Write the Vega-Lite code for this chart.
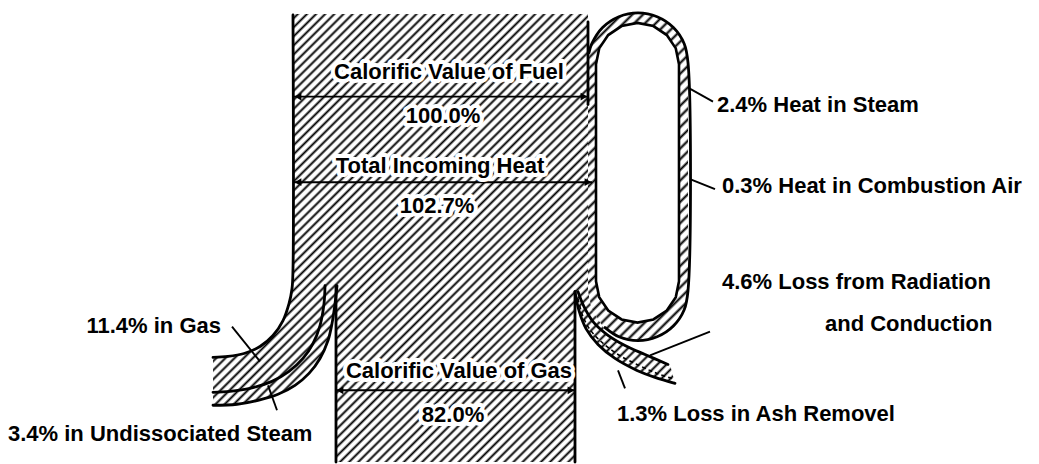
{
"$schema": "https://vega.github.io/schema/vega-lite/v6.json",
"width": 1039, "height": 464,
"autosize": {"type": "fit", "contains": "padding"},
"padding": 0,
"background": "white",
"config": {"view": {"stroke": null}},
"datasets": {
"shapes": [
{"s":"body","i":1,"x":293,"y":14},{"s":"body","i":2,"x":588,"y":14},{"s":"body","i":3,"x":588,"y":292},{"s":"body","i":4,"x":591.8,"y":311.1},{"s":"body","i":5,"x":602.6,"y":327.4},{"s":"body","i":6,"x":607,"y":336},{"s":"body","i":7,"x":625,"y":347},{"s":"body","i":8,"x":645,"y":356},{"s":"body","i":9,"x":670,"y":366},{"s":"body","i":10,"x":675,"y":385},{"s":"body","i":11,"x":655,"y":379},{"s":"body","i":12,"x":637,"y":372},{"s":"body","i":13,"x":615,"y":360},{"s":"body","i":14,"x":598,"y":346},{"s":"body","i":15,"x":586,"y":330},{"s":"body","i":16,"x":579,"y":312},{"s":"body","i":17,"x":575,"y":293},{"s":"body","i":18,"x":575,"y":464},{"s":"body","i":19,"x":336,"y":464},{"s":"body","i":20,"x":336,"y":287},{"s":"body","i":21,"x":335,"y":305},{"s":"body","i":22,"x":332,"y":325},{"s":"body","i":23,"x":328,"y":342},{"s":"body","i":24,"x":320,"y":360},{"s":"body","i":25,"x":309,"y":375},{"s":"body","i":26,"x":295,"y":387},{"s":"body","i":27,"x":278,"y":396},{"s":"body","i":28,"x":258,"y":402},{"s":"body","i":29,"x":237,"y":406},{"s":"body","i":30,"x":213,"y":407},{"s":"body","i":31,"x":213,"y":359},{"s":"body","i":32,"x":228,"y":358},{"s":"body","i":33,"x":244,"y":355},{"s":"body","i":34,"x":260,"y":348},{"s":"body","i":35,"x":273,"y":337},{"s":"body","i":36,"x":283,"y":322},{"s":"body","i":37,"x":289,"y":305},{"s":"body","i":38,"x":292,"y":290},{"s":"body","i":39,"x":293,"y":270},
{"s":"ring","i":1,"x":588,"y":63},{"s":"ring","i":2,"x":591.8,"y":43.9},{"s":"ring","i":3,"x":602.6,"y":27.6},{"s":"ring","i":4,"x":618.9,"y":16.8},{"s":"ring","i":5,"x":638,"y":13},{"s":"ring","i":6,"x":657.1,"y":16.8},{"s":"ring","i":7,"x":673.4,"y":27.6},{"s":"ring","i":8,"x":684.2,"y":43.9},{"s":"ring","i":9,"x":688,"y":63},{"s":"ring","i":10,"x":688,"y":292},{"s":"ring","i":11,"x":684.2,"y":311.1},{"s":"ring","i":12,"x":673.4,"y":327.4},{"s":"ring","i":13,"x":657.1,"y":338.2},{"s":"ring","i":14,"x":638,"y":342},{"s":"ring","i":15,"x":618.9,"y":338.2},{"s":"ring","i":16,"x":602.6,"y":327.4},{"s":"ring","i":17,"x":591.8,"y":311.1},{"s":"ring","i":18,"x":588,"y":292},
{"s":"inner","i":1,"x":596,"y":64.5},{"s":"inner","i":2,"x":599.2,"y":48.6},{"s":"inner","i":3,"x":608.2,"y":35.2},{"s":"inner","i":4,"x":621.6,"y":26.2},{"s":"inner","i":5,"x":637.5,"y":23},{"s":"inner","i":6,"x":653.4,"y":26.2},{"s":"inner","i":7,"x":666.8,"y":35.2},{"s":"inner","i":8,"x":675.8,"y":48.6},{"s":"inner","i":9,"x":679,"y":64.5},{"s":"inner","i":10,"x":679,"y":282.5},{"s":"inner","i":11,"x":675.8,"y":298.4},{"s":"inner","i":12,"x":666.8,"y":311.8},{"s":"inner","i":13,"x":653.4,"y":320.8},{"s":"inner","i":14,"x":637.5,"y":324},{"s":"inner","i":15,"x":621.6,"y":320.8},{"s":"inner","i":16,"x":608.2,"y":311.8},{"s":"inner","i":17,"x":599.2,"y":298.4},{"s":"inner","i":18,"x":596,"y":282.5}
],
"strokes": [
{"s":"L","i":1,"x":293,"y":15},{"s":"L","i":2,"x":293,"y":270},{"s":"L","i":3,"x":292,"y":290},{"s":"L","i":4,"x":289,"y":305},{"s":"L","i":5,"x":283,"y":322},{"s":"L","i":6,"x":273,"y":337},{"s":"L","i":7,"x":260,"y":348},{"s":"L","i":8,"x":244,"y":355},{"s":"L","i":9,"x":228,"y":358},{"s":"L","i":10,"x":213,"y":359},
{"s":"D","i":1,"x":325,"y":287},{"s":"D","i":2,"x":324,"y":305},{"s":"D","i":3,"x":320,"y":327},{"s":"D","i":4,"x":313,"y":345},{"s":"D","i":5,"x":303,"y":360},{"s":"D","i":6,"x":289,"y":373},{"s":"D","i":7,"x":272,"y":383},{"s":"D","i":8,"x":250,"y":390},{"s":"D","i":9,"x":230,"y":393},{"s":"D","i":10,"x":213,"y":394},
{"s":"LC","i":1,"x":337,"y":287},{"s":"LC","i":2,"x":335,"y":305},{"s":"LC","i":3,"x":332,"y":325},{"s":"LC","i":4,"x":328,"y":342},{"s":"LC","i":5,"x":320,"y":360},{"s":"LC","i":6,"x":309,"y":375},{"s":"LC","i":7,"x":295,"y":387},{"s":"LC","i":8,"x":278,"y":396},{"s":"LC","i":9,"x":258,"y":402},{"s":"LC","i":10,"x":237,"y":406},{"s":"LC","i":11,"x":213,"y":407},
{"s":"CL","i":1,"x":336,"y":287},{"s":"CL","i":2,"x":336,"y":464},
{"s":"CR","i":1,"x":575,"y":293},{"s":"CR","i":2,"x":575,"y":464},
{"s":"BL","i":1,"x":575,"y":293},{"s":"BL","i":2,"x":579,"y":312},{"s":"BL","i":3,"x":586,"y":330},{"s":"BL","i":4,"x":598,"y":346},{"s":"BL","i":5,"x":615,"y":360},{"s":"BL","i":6,"x":637,"y":372},{"s":"BL","i":7,"x":655,"y":379},{"s":"BL","i":8,"x":675,"y":385},
{"s":"BU","i":1,"x":578,"y":293},{"s":"BU","i":2,"x":584,"y":308},{"s":"BU","i":3,"x":593,"y":323},{"s":"BU","i":4,"x":607,"y":336},{"s":"BU","i":5,"x":625,"y":347},{"s":"BU","i":6,"x":645,"y":356},{"s":"BU","i":7,"x":668,"y":366},
{"s":"RO","i":1,"x":589,"y":53},{"s":"RO","i":2,"x":591.8,"y":43.9},{"s":"RO","i":3,"x":602.6,"y":27.6},{"s":"RO","i":4,"x":618.9,"y":16.8},{"s":"RO","i":5,"x":638,"y":13},{"s":"RO","i":6,"x":657.1,"y":16.8},{"s":"RO","i":7,"x":673.4,"y":27.6},{"s":"RO","i":8,"x":684.2,"y":43.9},{"s":"RO","i":9,"x":688,"y":63},{"s":"RO","i":10,"x":688,"y":292},{"s":"RO","i":11,"x":684.2,"y":311.1},{"s":"RO","i":12,"x":673.4,"y":327.4},{"s":"RO","i":13,"x":657.1,"y":338.2},{"s":"RO","i":14,"x":638,"y":342},{"s":"RO","i":15,"x":618.9,"y":338.2},{"s":"RO","i":16,"x":605,"y":329},
{"s":"RV","i":1,"x":588,"y":22},{"s":"RV","i":2,"x":588,"y":105},
{"s":"BD","i":1,"x":578,"y":300},{"s":"BD","i":2,"x":583,"y":318},{"s":"BD","i":3,"x":590,"y":331},{"s":"BD","i":4,"x":601,"y":343},{"s":"BD","i":5,"x":618,"y":356},{"s":"BD","i":6,"x":639,"y":367},{"s":"BD","i":7,"x":657,"y":375},{"s":"BD","i":8,"x":672,"y":380}
],
"segs": [
{"x":294,"y":97,"x2":588,"y2":97},{"x":294,"y":183,"x2":592,"y2":183},{"x":336,"y":392,"x2":575,"y2":392},
{"x":232,"y":328,"x2":260,"y2":363},{"x":268,"y":387,"x2":277,"y2":412},{"x":688,"y":88,"x2":713,"y2":102},{"x":690,"y":180,"x2":715,"y2":190},{"x":650,"y":357,"x2":710,"y2":333},{"x":618,"y":372,"x2":625,"y2":390}
],
"heads": [
{"x":298,"y":97,"d":"L"},{"x":584,"y":97,"d":"R"},{"x":298,"y":183,"d":"L"},{"x":588,"y":183,"d":"R"},{"x":340,"y":392,"d":"L"},{"x":571,"y":392,"d":"R"}
],
"labels": [
{"t":"Calorific Value of Fuel","x":449,"y":72,"a":"c"},{"t":"100.0%","x":443,"y":117,"a":"c"},{"t":"Total Incoming Heat","x":440,"y":167,"a":"c"},{"t":"102.7%","x":437,"y":207,"a":"c"},{"t":"Calorific Value of Gas","x":459,"y":373,"a":"c"},{"t":"82.0%","x":453,"y":417,"a":"c"},
{"t":"2.4% Heat in Steam","x":717,"y":105,"a":"l"},{"t":"0.3% Heat in Combustion Air","x":722,"y":187,"a":"l"},{"t":"4.6% Loss from Radiation","x":722,"y":283,"a":"l"},{"t":"and Conduction","x":825,"y":325,"a":"l"},{"t":"1.3% Loss in Ash Removel","x":617,"y":416,"a":"l"},{"t":"3.4% in Undissociated Steam","x":8,"y":436,"a":"l"},
{"t":"11.4% in Gas","x":221,"y":327,"a":"r"}
]
},
"layer": [
{
"data": {"name": "shapes"},
"transform": [{"filter": "datum.s == 'body'"}],
"mark": {"type": "line", "interpolate": "linear", "strokeWidth": 0, "strokeOpacity": 0,
"fill": {"gradient": "linear", "x1": 0, "y1": 0, "x2": 1.012, "y2": 0.988, "stops": [
{"offset":0.00,"color":"#fff"},{"offset":0.003,"color":"#000"},{"offset":0.006,"color":"#fff"},
{"offset":0.01,"color":"#fff"},{"offset":0.013,"color":"#000"},{"offset":0.016,"color":"#fff"},
{"offset":0.02,"color":"#fff"},{"offset":0.023,"color":"#000"},{"offset":0.026,"color":"#fff"},
{"offset":0.03,"color":"#fff"},{"offset":0.033,"color":"#000"},{"offset":0.036,"color":"#fff"},
{"offset":0.04,"color":"#fff"},{"offset":0.043,"color":"#000"},{"offset":0.046,"color":"#fff"},
{"offset":0.05,"color":"#fff"},{"offset":0.053,"color":"#000"},{"offset":0.056,"color":"#fff"},
{"offset":0.06,"color":"#fff"},{"offset":0.063,"color":"#000"},{"offset":0.066,"color":"#fff"},
{"offset":0.07,"color":"#fff"},{"offset":0.073,"color":"#000"},{"offset":0.076,"color":"#fff"},
{"offset":0.08,"color":"#fff"},{"offset":0.083,"color":"#000"},{"offset":0.086,"color":"#fff"},
{"offset":0.09,"color":"#fff"},{"offset":0.093,"color":"#000"},{"offset":0.096,"color":"#fff"},
{"offset":0.10,"color":"#fff"},{"offset":0.103,"color":"#000"},{"offset":0.106,"color":"#fff"},
{"offset":0.11,"color":"#fff"},{"offset":0.113,"color":"#000"},{"offset":0.116,"color":"#fff"},
{"offset":0.12,"color":"#fff"},{"offset":0.123,"color":"#000"},{"offset":0.126,"color":"#fff"},
{"offset":0.13,"color":"#fff"},{"offset":0.133,"color":"#000"},{"offset":0.136,"color":"#fff"},
{"offset":0.14,"color":"#fff"},{"offset":0.143,"color":"#000"},{"offset":0.146,"color":"#fff"},
{"offset":0.15,"color":"#fff"},{"offset":0.153,"color":"#000"},{"offset":0.156,"color":"#fff"},
{"offset":0.16,"color":"#fff"},{"offset":0.163,"color":"#000"},{"offset":0.166,"color":"#fff"},
{"offset":0.17,"color":"#fff"},{"offset":0.173,"color":"#000"},{"offset":0.176,"color":"#fff"},
{"offset":0.18,"color":"#fff"},{"offset":0.183,"color":"#000"},{"offset":0.186,"color":"#fff"},
{"offset":0.19,"color":"#fff"},{"offset":0.193,"color":"#000"},{"offset":0.196,"color":"#fff"},
{"offset":0.20,"color":"#fff"},{"offset":0.203,"color":"#000"},{"offset":0.206,"color":"#fff"},
{"offset":0.21,"color":"#fff"},{"offset":0.213,"color":"#000"},{"offset":0.216,"color":"#fff"},
{"offset":0.22,"color":"#fff"},{"offset":0.223,"color":"#000"},{"offset":0.226,"color":"#fff"},
{"offset":0.23,"color":"#fff"},{"offset":0.233,"color":"#000"},{"offset":0.236,"color":"#fff"},
{"offset":0.24,"color":"#fff"},{"offset":0.243,"color":"#000"},{"offset":0.246,"color":"#fff"},
{"offset":0.25,"color":"#fff"},{"offset":0.253,"color":"#000"},{"offset":0.256,"color":"#fff"},
{"offset":0.26,"color":"#fff"},{"offset":0.263,"color":"#000"},{"offset":0.266,"color":"#fff"},
{"offset":0.27,"color":"#fff"},{"offset":0.273,"color":"#000"},{"offset":0.276,"color":"#fff"},
{"offset":0.28,"color":"#fff"},{"offset":0.283,"color":"#000"},{"offset":0.286,"color":"#fff"},
{"offset":0.29,"color":"#fff"},{"offset":0.293,"color":"#000"},{"offset":0.296,"color":"#fff"},
{"offset":0.30,"color":"#fff"},{"offset":0.303,"color":"#000"},{"offset":0.306,"color":"#fff"},
{"offset":0.31,"color":"#fff"},{"offset":0.313,"color":"#000"},{"offset":0.316,"color":"#fff"},
{"offset":0.32,"color":"#fff"},{"offset":0.323,"color":"#000"},{"offset":0.326,"color":"#fff"},
{"offset":0.33,"color":"#fff"},{"offset":0.333,"color":"#000"},{"offset":0.336,"color":"#fff"},
{"offset":0.34,"color":"#fff"},{"offset":0.343,"color":"#000"},{"offset":0.346,"color":"#fff"},
{"offset":0.35,"color":"#fff"},{"offset":0.353,"color":"#000"},{"offset":0.356,"color":"#fff"},
{"offset":0.36,"color":"#fff"},{"offset":0.363,"color":"#000"},{"offset":0.366,"color":"#fff"},
{"offset":0.37,"color":"#fff"},{"offset":0.373,"color":"#000"},{"offset":0.376,"color":"#fff"},
{"offset":0.38,"color":"#fff"},{"offset":0.383,"color":"#000"},{"offset":0.386,"color":"#fff"},
{"offset":0.39,"color":"#fff"},{"offset":0.393,"color":"#000"},{"offset":0.396,"color":"#fff"},
{"offset":0.40,"color":"#fff"},{"offset":0.403,"color":"#000"},{"offset":0.406,"color":"#fff"},
{"offset":0.41,"color":"#fff"},{"offset":0.413,"color":"#000"},{"offset":0.416,"color":"#fff"},
{"offset":0.42,"color":"#fff"},{"offset":0.423,"color":"#000"},{"offset":0.426,"color":"#fff"},
{"offset":0.43,"color":"#fff"},{"offset":0.433,"color":"#000"},{"offset":0.436,"color":"#fff"},
{"offset":0.44,"color":"#fff"},{"offset":0.443,"color":"#000"},{"offset":0.446,"color":"#fff"},
{"offset":0.45,"color":"#fff"},{"offset":0.453,"color":"#000"},{"offset":0.456,"color":"#fff"},
{"offset":0.46,"color":"#fff"},{"offset":0.463,"color":"#000"},{"offset":0.466,"color":"#fff"},
{"offset":0.47,"color":"#fff"},{"offset":0.473,"color":"#000"},{"offset":0.476,"color":"#fff"},
{"offset":0.48,"color":"#fff"},{"offset":0.483,"color":"#000"},{"offset":0.486,"color":"#fff"},
{"offset":0.49,"color":"#fff"},{"offset":0.493,"color":"#000"},{"offset":0.496,"color":"#fff"},
{"offset":0.50,"color":"#fff"},{"offset":0.503,"color":"#000"},{"offset":0.506,"color":"#fff"},
{"offset":0.51,"color":"#fff"},{"offset":0.513,"color":"#000"},{"offset":0.516,"color":"#fff"},
{"offset":0.52,"color":"#fff"},{"offset":0.523,"color":"#000"},{"offset":0.526,"color":"#fff"},
{"offset":0.53,"color":"#fff"},{"offset":0.533,"color":"#000"},{"offset":0.536,"color":"#fff"},
{"offset":0.54,"color":"#fff"},{"offset":0.543,"color":"#000"},{"offset":0.546,"color":"#fff"},
{"offset":0.55,"color":"#fff"},{"offset":0.553,"color":"#000"},{"offset":0.556,"color":"#fff"},
{"offset":0.56,"color":"#fff"},{"offset":0.563,"color":"#000"},{"offset":0.566,"color":"#fff"},
{"offset":0.57,"color":"#fff"},{"offset":0.573,"color":"#000"},{"offset":0.576,"color":"#fff"},
{"offset":0.58,"color":"#fff"},{"offset":0.583,"color":"#000"},{"offset":0.586,"color":"#fff"},
{"offset":0.59,"color":"#fff"},{"offset":0.593,"color":"#000"},{"offset":0.596,"color":"#fff"},
{"offset":0.60,"color":"#fff"},{"offset":0.603,"color":"#000"},{"offset":0.606,"color":"#fff"},
{"offset":0.61,"color":"#fff"},{"offset":0.613,"color":"#000"},{"offset":0.616,"color":"#fff"},
{"offset":0.62,"color":"#fff"},{"offset":0.623,"color":"#000"},{"offset":0.626,"color":"#fff"},
{"offset":0.63,"color":"#fff"},{"offset":0.633,"color":"#000"},{"offset":0.636,"color":"#fff"},
{"offset":0.64,"color":"#fff"},{"offset":0.643,"color":"#000"},{"offset":0.646,"color":"#fff"},
{"offset":0.65,"color":"#fff"},{"offset":0.653,"color":"#000"},{"offset":0.656,"color":"#fff"},
{"offset":0.66,"color":"#fff"},{"offset":0.663,"color":"#000"},{"offset":0.666,"color":"#fff"},
{"offset":0.67,"color":"#fff"},{"offset":0.673,"color":"#000"},{"offset":0.676,"color":"#fff"},
{"offset":0.68,"color":"#fff"},{"offset":0.683,"color":"#000"},{"offset":0.686,"color":"#fff"},
{"offset":0.69,"color":"#fff"},{"offset":0.693,"color":"#000"},{"offset":0.696,"color":"#fff"},
{"offset":0.70,"color":"#fff"},{"offset":0.703,"color":"#000"},{"offset":0.706,"color":"#fff"},
{"offset":0.71,"color":"#fff"},{"offset":0.713,"color":"#000"},{"offset":0.716,"color":"#fff"},
{"offset":0.72,"color":"#fff"},{"offset":0.723,"color":"#000"},{"offset":0.726,"color":"#fff"},
{"offset":0.73,"color":"#fff"},{"offset":0.733,"color":"#000"},{"offset":0.736,"color":"#fff"},
{"offset":0.74,"color":"#fff"},{"offset":0.743,"color":"#000"},{"offset":0.746,"color":"#fff"},
{"offset":0.75,"color":"#fff"},{"offset":0.753,"color":"#000"},{"offset":0.756,"color":"#fff"},
{"offset":0.76,"color":"#fff"},{"offset":0.763,"color":"#000"},{"offset":0.766,"color":"#fff"},
{"offset":0.77,"color":"#fff"},{"offset":0.773,"color":"#000"},{"offset":0.776,"color":"#fff"},
{"offset":0.78,"color":"#fff"},{"offset":0.783,"color":"#000"},{"offset":0.786,"color":"#fff"},
{"offset":0.79,"color":"#fff"},{"offset":0.793,"color":"#000"},{"offset":0.796,"color":"#fff"},
{"offset":0.80,"color":"#fff"},{"offset":0.803,"color":"#000"},{"offset":0.806,"color":"#fff"},
{"offset":0.81,"color":"#fff"},{"offset":0.813,"color":"#000"},{"offset":0.816,"color":"#fff"},
{"offset":0.82,"color":"#fff"},{"offset":0.823,"color":"#000"},{"offset":0.826,"color":"#fff"},
{"offset":0.83,"color":"#fff"},{"offset":0.833,"color":"#000"},{"offset":0.836,"color":"#fff"},
{"offset":0.84,"color":"#fff"},{"offset":0.843,"color":"#000"},{"offset":0.846,"color":"#fff"},
{"offset":0.85,"color":"#fff"},{"offset":0.853,"color":"#000"},{"offset":0.856,"color":"#fff"},
{"offset":0.86,"color":"#fff"},{"offset":0.863,"color":"#000"},{"offset":0.866,"color":"#fff"},
{"offset":0.87,"color":"#fff"},{"offset":0.873,"color":"#000"},{"offset":0.876,"color":"#fff"},
{"offset":0.88,"color":"#fff"},{"offset":0.883,"color":"#000"},{"offset":0.886,"color":"#fff"},
{"offset":0.89,"color":"#fff"},{"offset":0.893,"color":"#000"},{"offset":0.896,"color":"#fff"},
{"offset":0.90,"color":"#fff"},{"offset":0.903,"color":"#000"},{"offset":0.906,"color":"#fff"},
{"offset":0.91,"color":"#fff"},{"offset":0.913,"color":"#000"},{"offset":0.916,"color":"#fff"},
{"offset":0.92,"color":"#fff"},{"offset":0.923,"color":"#000"},{"offset":0.926,"color":"#fff"},
{"offset":0.93,"color":"#fff"},{"offset":0.933,"color":"#000"},{"offset":0.936,"color":"#fff"},
{"offset":0.94,"color":"#fff"},{"offset":0.943,"color":"#000"},{"offset":0.946,"color":"#fff"},
{"offset":0.95,"color":"#fff"},{"offset":0.953,"color":"#000"},{"offset":0.956,"color":"#fff"},
{"offset":0.96,"color":"#fff"},{"offset":0.963,"color":"#000"},{"offset":0.966,"color":"#fff"},
{"offset":0.97,"color":"#fff"},{"offset":0.973,"color":"#000"},{"offset":0.976,"color":"#fff"},
{"offset":0.98,"color":"#fff"},{"offset":0.983,"color":"#000"},{"offset":0.986,"color":"#fff"},
{"offset":0.99,"color":"#fff"},{"offset":0.993,"color":"#000"},{"offset":0.996,"color":"#fff"},
{"offset":1,"color":"#fff"}
]}},
"encoding": {
"x": {"field": "x", "type": "quantitative", "scale": {"domain": [0, 1039], "nice": false, "zero": false}, "axis": null},
"y": {"field": "y", "type": "quantitative", "scale": {"domain": [0, 464], "reverse": true, "nice": false, "zero": false}, "axis": null},
"order": {"field": "i", "type": "quantitative"}
}
},
{
"data": {"name": "shapes"},
"transform": [{"filter": "datum.s == 'ring'"}],
"mark": {"type": "line", "interpolate": "linear", "strokeWidth": 0, "strokeOpacity": 0,
"fill": {"gradient": "linear", "x1": 0, "y1": 0, "x2": 0.363, "y2": 1.194, "stops": [
{"offset":0,"color":"#fff"},{"offset":0.007,"color":"#000"},{"offset":0.014,"color":"#fff"},
{"offset":0.025,"color":"#fff"},{"offset":0.032,"color":"#000"},{"offset":0.039,"color":"#fff"},
{"offset":0.05,"color":"#fff"},{"offset":0.057,"color":"#000"},{"offset":0.064,"color":"#fff"},
{"offset":0.075,"color":"#fff"},{"offset":0.082,"color":"#000"},{"offset":0.089,"color":"#fff"},
{"offset":0.1,"color":"#fff"},{"offset":0.107,"color":"#000"},{"offset":0.114,"color":"#fff"},
{"offset":0.125,"color":"#fff"},{"offset":0.132,"color":"#000"},{"offset":0.139,"color":"#fff"},
{"offset":0.15,"color":"#fff"},{"offset":0.157,"color":"#000"},{"offset":0.164,"color":"#fff"},
{"offset":0.175,"color":"#fff"},{"offset":0.182,"color":"#000"},{"offset":0.189,"color":"#fff"},
{"offset":0.2,"color":"#fff"},{"offset":0.207,"color":"#000"},{"offset":0.214,"color":"#fff"},
{"offset":0.225,"color":"#fff"},{"offset":0.232,"color":"#000"},{"offset":0.239,"color":"#fff"},
{"offset":0.25,"color":"#fff"},{"offset":0.257,"color":"#000"},{"offset":0.264,"color":"#fff"},
{"offset":0.275,"color":"#fff"},{"offset":0.282,"color":"#000"},{"offset":0.289,"color":"#fff"},
{"offset":0.3,"color":"#fff"},{"offset":0.307,"color":"#000"},{"offset":0.314,"color":"#fff"},
{"offset":0.325,"color":"#fff"},{"offset":0.332,"color":"#000"},{"offset":0.339,"color":"#fff"},
{"offset":0.35,"color":"#fff"},{"offset":0.357,"color":"#000"},{"offset":0.364,"color":"#fff"},
{"offset":0.375,"color":"#fff"},{"offset":0.382,"color":"#000"},{"offset":0.389,"color":"#fff"},
{"offset":0.4,"color":"#fff"},{"offset":0.407,"color":"#000"},{"offset":0.414,"color":"#fff"},
{"offset":0.425,"color":"#fff"},{"offset":0.432,"color":"#000"},{"offset":0.439,"color":"#fff"},
{"offset":0.45,"color":"#fff"},{"offset":0.457,"color":"#000"},{"offset":0.464,"color":"#fff"},
{"offset":0.475,"color":"#fff"},{"offset":0.482,"color":"#000"},{"offset":0.489,"color":"#fff"},
{"offset":0.5,"color":"#fff"},{"offset":0.507,"color":"#000"},{"offset":0.514,"color":"#fff"},
{"offset":0.525,"color":"#fff"},{"offset":0.532,"color":"#000"},{"offset":0.539,"color":"#fff"},
{"offset":0.55,"color":"#fff"},{"offset":0.557,"color":"#000"},{"offset":0.564,"color":"#fff"},
{"offset":0.575,"color":"#fff"},{"offset":0.582,"color":"#000"},{"offset":0.589,"color":"#fff"},
{"offset":0.6,"color":"#fff"},{"offset":0.607,"color":"#000"},{"offset":0.614,"color":"#fff"},
{"offset":0.625,"color":"#fff"},{"offset":0.632,"color":"#000"},{"offset":0.639,"color":"#fff"},
{"offset":0.65,"color":"#fff"},{"offset":0.657,"color":"#000"},{"offset":0.664,"color":"#fff"},
{"offset":0.675,"color":"#fff"},{"offset":0.682,"color":"#000"},{"offset":0.689,"color":"#fff"},
{"offset":0.7,"color":"#fff"},{"offset":0.707,"color":"#000"},{"offset":0.714,"color":"#fff"},
{"offset":0.725,"color":"#fff"},{"offset":0.732,"color":"#000"},{"offset":0.739,"color":"#fff"},
{"offset":0.75,"color":"#fff"},{"offset":0.757,"color":"#000"},{"offset":0.764,"color":"#fff"},
{"offset":0.775,"color":"#fff"},{"offset":0.782,"color":"#000"},{"offset":0.789,"color":"#fff"},
{"offset":0.8,"color":"#fff"},{"offset":0.807,"color":"#000"},{"offset":0.814,"color":"#fff"},
{"offset":0.825,"color":"#fff"},{"offset":0.832,"color":"#000"},{"offset":0.839,"color":"#fff"},
{"offset":0.85,"color":"#fff"},{"offset":0.857,"color":"#000"},{"offset":0.864,"color":"#fff"},
{"offset":0.875,"color":"#fff"},{"offset":0.882,"color":"#000"},{"offset":0.889,"color":"#fff"},
{"offset":0.9,"color":"#fff"},{"offset":0.907,"color":"#000"},{"offset":0.914,"color":"#fff"},
{"offset":0.925,"color":"#fff"},{"offset":0.932,"color":"#000"},{"offset":0.939,"color":"#fff"},
{"offset":0.95,"color":"#fff"},{"offset":0.957,"color":"#000"},{"offset":0.964,"color":"#fff"},
{"offset":0.975,"color":"#fff"},{"offset":0.982,"color":"#000"},{"offset":0.989,"color":"#fff"},
{"offset":1,"color":"#fff"}
]}},
"encoding": {
"x": {"field": "x", "type": "quantitative", "scale": {"domain": [0, 1039], "nice": false, "zero": false}, "axis": null},
"y": {"field": "y", "type": "quantitative", "scale": {"domain": [0, 464], "reverse": true, "nice": false, "zero": false}, "axis": null},
"order": {"field": "i", "type": "quantitative"}
}
},
{
"data": {"name": "shapes"},
"transform": [{"filter": "datum.s == 'inner'"}],
"mark": {"type": "line", "interpolate": "linear-closed", "fill": "white", "stroke": "black", "strokeWidth": 2.6},
"encoding": {
"x": {"field": "x", "type": "quantitative", "axis": null},
"y": {"field": "y", "type": "quantitative", "axis": null},
"order": {"field": "i", "type": "quantitative"}
}
},
{
"data": {"name": "strokes"},
"transform": [{"filter": "datum.s != 'BD'"}],
"mark": {"type": "line", "interpolate": "catmull-rom", "stroke": "black", "strokeWidth": 2.8, "strokeCap": "round", "strokeJoin": "round"},
"encoding": {
"x": {"field": "x", "type": "quantitative", "axis": null},
"y": {"field": "y", "type": "quantitative", "axis": null},
"detail": {"field": "s"},
"order": {"field": "i", "type": "quantitative"}
}
},
{
"data": {"name": "strokes"},
"transform": [{"filter": "datum.s == 'BD'"}],
"mark": {"type": "line", "interpolate": "catmull-rom", "stroke": "black", "strokeWidth": 1.6, "strokeDash": [4, 3]},
"encoding": {
"x": {"field": "x", "type": "quantitative", "axis": null},
"y": {"field": "y", "type": "quantitative", "axis": null},
"order": {"field": "i", "type": "quantitative"}
}
},
{
"data": {"name": "segs"},
"mark": {"type": "rule", "stroke": "black", "strokeWidth": 1.9},
"encoding": {
"x": {"field": "x", "type": "quantitative", "axis": null},
"y": {"field": "y", "type": "quantitative", "axis": null},
"x2": {"field": "x2"},
"y2": {"field": "y2"}
}
},
{
"data": {"name": "heads"},
"mark": {"type": "point", "filled": true, "fill": "black", "stroke": null, "size": 60, "opacity": 1},
"encoding": {
"x": {"field": "x", "type": "quantitative", "axis": null},
"y": {"field": "y", "type": "quantitative", "axis": null},
"shape": {"field": "d", "type": "nominal", "scale": {"domain": ["L", "R"], "range": ["triangle-left", "triangle-right"]}, "legend": null}
}
},
{
"data": {"name": "labels"},
"transform": [{"filter": "datum.a == 'c'"}],
"mark": {"type": "text", "align": "center", "baseline": "middle", "font": "Liberation Sans", "fontWeight": "bold", "fontSize": 22, "stroke": "white", "strokeWidth": 8, "strokeJoin": "round", "fill": "white"},
"encoding": {
"x": {"field": "x", "type": "quantitative", "axis": null},
"y": {"field": "y", "type": "quantitative", "axis": null},
"text": {"field": "t"}
}
},
{
"data": {"name": "labels"},
"transform": [{"filter": "datum.a == 'c'"}],
"mark": {"type": "text", "align": "center", "baseline": "middle", "font": "Liberation Sans", "fontWeight": "bold", "fontSize": 22, "fill": "black"},
"encoding": {
"x": {"field": "x", "type": "quantitative", "axis": null},
"y": {"field": "y", "type": "quantitative", "axis": null},
"text": {"field": "t"}
}
},
{
"data": {"name": "labels"},
"transform": [{"filter": "datum.a == 'l'"}],
"mark": {"type": "text", "align": "left", "baseline": "middle", "font": "Liberation Sans", "fontWeight": "bold", "fontSize": 22, "fill": "black"},
"encoding": {
"x": {"field": "x", "type": "quantitative", "axis": null},
"y": {"field": "y", "type": "quantitative", "axis": null},
"text": {"field": "t"}
}
},
{
"data": {"name": "labels"},
"transform": [{"filter": "datum.a == 'r'"}],
"mark": {"type": "text", "align": "right", "baseline": "middle", "font": "Liberation Sans", "fontWeight": "bold", "fontSize": 22, "fill": "black"},
"encoding": {
"x": {"field": "x", "type": "quantitative", "axis": null},
"y": {"field": "y", "type": "quantitative", "axis": null},
"text": {"field": "t"}
}
}
]
}
